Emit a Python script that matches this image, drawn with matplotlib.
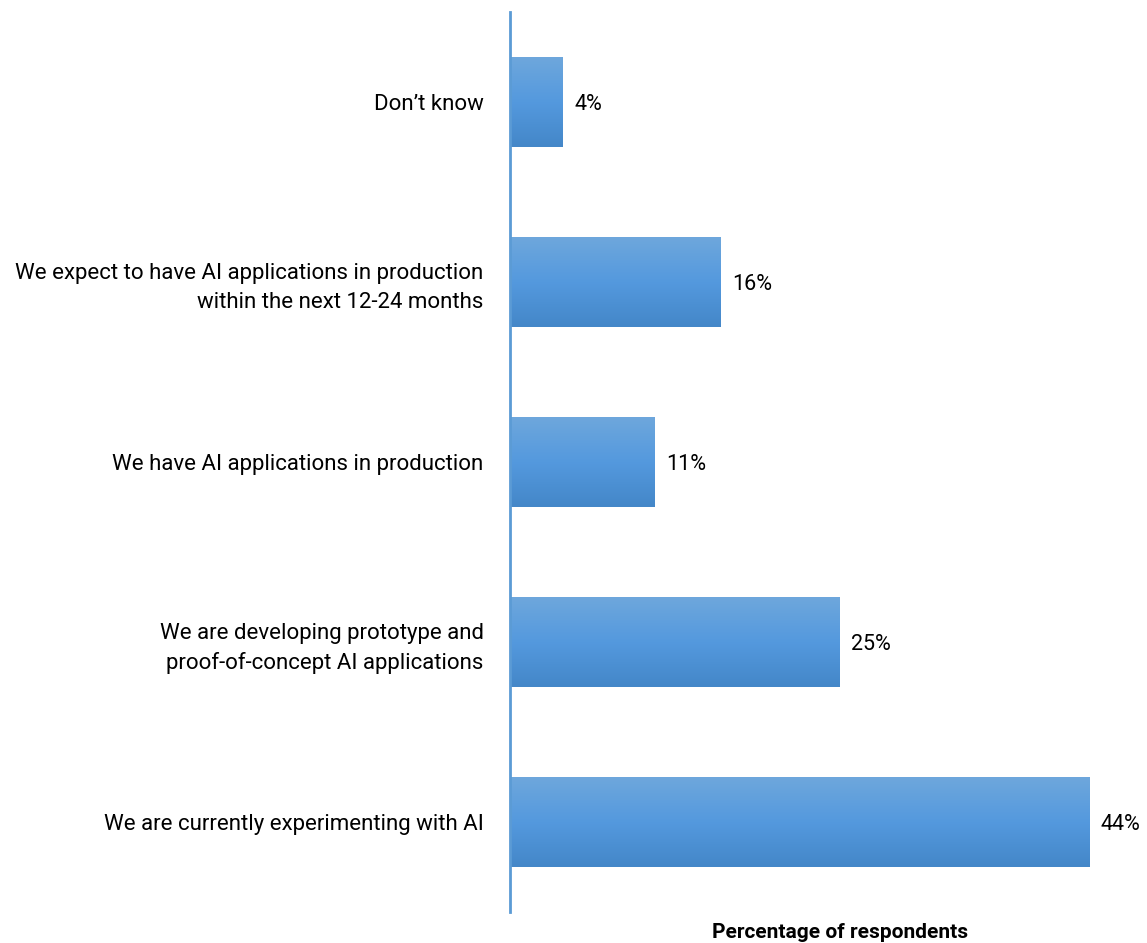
import matplotlib
matplotlib.use('Agg')
import matplotlib.pyplot as plt
import numpy as np
from matplotlib.colors import LinearSegmentedColormap

# Survey responses, top to bottom
categories = [
    'Don\u2019t know',
    'We expect to have AI applications in production\nwithin the next 12-24 months',
    'We have AI applications in production',
    'We are developing prototype and\nproof-of-concept AI applications',
    'We are currently experimenting with AI',
]
values = [4, 16, 11, 25, 44]
x_label = 'Percentage of respondents'

plt.rcParams['font.family'] = ['Liberation Sans Narrow', 'Roboto', 'DejaVu Sans']

# Vertical blue gradient used to fill each bar
bar_cmap = LinearSegmentedColormap.from_list(
    'bar_fill', ['#6ea7dc', '#5499de', '#4487c8'])


def run():
    fig = plt.figure(figsize=(11.47, 9.43), dpi=100)
    ax = fig.add_axes([510 / 1147, 31 / 943, 637 / 1147, 900 / 943])

    y = np.arange(len(categories))
    bars = ax.barh(y, values, height=0.5, color='#5499de', edgecolor='none')

    grad = np.linspace(0, 1, 256).reshape(-1, 1)
    for bar in bars:
        x0, y0 = bar.get_x(), bar.get_y()
        w, h = bar.get_width(), bar.get_height()
        im = ax.imshow(grad, cmap=bar_cmap, aspect='auto',
                       extent=(x0, x0 + w, y0 + h, y0),
                       interpolation='bilinear', zorder=2)
        im.set_clip_path(bar)

    for yi, v in zip(y, values):
        ax.text(v + 0.9, yi, f'{v}%', va='center_baseline', ha='left',
                fontsize=15.5)

    ax.set_ylim(len(categories) - 0.5, -0.5)
    ax.set_xlim(0, 48.4)

    ax.set_yticks(y)
    ax.set_yticklabels(categories, fontsize=16, ha='right',
                       multialignment='right', linespacing=1.45)
    ax.tick_params(axis='y', length=0, pad=19)
    ax.set_xticks([])

    for pos in ['right', 'top', 'bottom']:
        ax.spines[pos].set_visible(False)
    ax.spines['left'].set_color('#5b9bd5')
    ax.spines['left'].set_linewidth(2)

    fig.text(840 / 1147, 1 - 932 / 943, x_label, ha='center', va='center',
             fontsize=15, fontweight='bold')

    fig.savefig('out.png', dpi=100)


if __name__ == '__main__':
    run()
